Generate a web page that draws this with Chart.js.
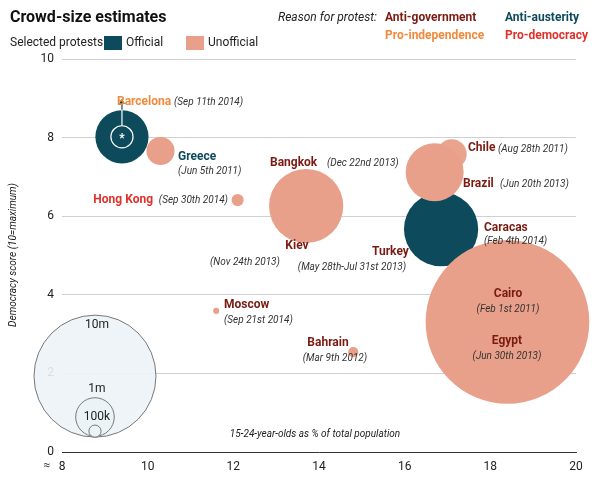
<!DOCTYPE html><html><head><meta charset="utf-8">
<script src="https://cdn.jsdelivr.net/npm/chart.js@4"></script>
<style>html,body{margin:0;padding:0;background:#fff}#w{width:600px;height:478px}</style></head>
<body><div id="w"><canvas id="c"></canvas></div>
<script>
const names=["Barcelona","Greece","Hong Kong","Bangkok","Kiev","Moscow","Bahrain","Chile","Brazil","Caracas","Turkey","Cairo","Egypt"];
const youthPct=[9.4,10.3,12.1,13.7,13.7,11.6,14.8,17.1,16.7,16.85,17.7,18.4,18.4];
const democracy=[8.02,7.66,6.41,6.26,5.8,3.59,2.54,7.58,7.12,5.67,5.06,4.02,3.31];
// crowd sizes in millions (null = none shown)
const unofficialM=[null,0.53,0.1,3.7,0.07,0.025,0.07,0.6,2.26,null,0.1,0.78,18];
const officialM=[1.9,0.27,null,0.27,0.01,null,0.01,null,null,3.7,null,null,null];
const scaleLabels=["10m","1m","100k"];const scaleM=[10,1,0.1];
const scaleX=[8.77,8.77,8.77];const scaleY=[1.93,0.89,0.53];
const xTicks=[8,10,12,14,16,18,20];const yTicks=[0,2,4,6,8,10];
const R10=61;const rad=m=>R10*Math.sqrt(m/10);
const TEAL='#0d4b5c',SALMON='#e9a08a',DRED='#7a1b12',ORANGE='#f08a3c',RED='#e0312a';
const uCol=names.map(n=>n==='Cairo'?'#e8734f':(n==='Chile'?'#eaa48e':SALMON));
function pts(vals){const o=[];vals.forEach((v,i)=>{if(v!=null)o.push({x:youthPct[i],y:democracy[i],r:rad(v),c:uCol[i]});});return o;}
const unoff=pts(unofficialM);
const extra=[{x:16.94,y:7.48,r:rad(0.39)}];
const off=pts(officialM);
const scaleData=scaleM.map((m,i)=>({x:scaleX[i],y:scaleY[i],r:rad(m)}));
Chart.registry.getController('bubble').prototype.getMaxOverflow=function(){return 0;};
const txt=(ctx,s,x,y,font,col,al)=>{ctx.font=font;ctx.fillStyle=col;ctx.textAlign=al||'left';ctx.fillText(s,x,y);};
const deco={id:'deco',afterDatasetsDraw(ch){const c=ch.ctx;c.save();c.textBaseline='middle';
const B='bold 12px Roboto',I='italic 10px Roboto';
const xs=ch.scales.x,ys=ch.scales.y;const bx=xs.getPixelForValue(youthPct[0]),by=ys.getPixelForValue(democracy[0]);
c.strokeStyle='#fff';c.lineWidth=1.2;c.beginPath();c.arc(bx,by,rad(0.33),0,7);c.stroke();
txt(c,'*',bx,by+2,'bold 12px Roboto','#fff','center');
c.strokeStyle='#fff';c.beginPath();c.moveTo(bx,by-11);c.lineTo(bx,by-36);c.stroke();
c.strokeStyle=TEAL;c.beginPath();c.moveTo(bx,by-27);c.lineTo(bx,by-36);c.stroke();
c.fillStyle=TEAL;c.beginPath();c.moveTo(bx-3,by-33);c.lineTo(bx,by-38);c.lineTo(bx+3,by-33);c.fill();
txt(c,'Barcelona',117,102,B,ORANGE);txt(c,'(Sep 11th 2014)',174,102,I,'#333');
txt(c,'Greece',178,157,B,TEAL);txt(c,'(Jun 5th 2011)',178,171,I,'#333');
txt(c,'(Sep 30th 2014)',228,200,I,'#333','right');txt(c,'Hong Kong',153,200,B,RED,'right');
txt(c,'Bangkok',270,163,B,DRED);txt(c,'(Dec 22nd 2013)',327,163,I,'#333');
txt(c,'Kiev',297,246,B,DRED,'center');txt(c,'(Nov 24th 2013)',245,262,I,'#333','center');
txt(c,'Turkey',372,252,B,DRED);txt(c,'(May 28th-Jul 31st 2013)',352,267,I,'#333','center');
txt(c,'Moscow',224,305,B,DRED);txt(c,'(Sep 21st 2014)',224,320,I,'#333');
txt(c,'Bahrain',328,343,B,DRED,'center');txt(c,'(Mar 9th 2012)',335,358,I,'#333','center');
txt(c,'Chile',468,148,B,DRED);txt(c,'(Aug 28th 2011)',498,149,I,'#333');
txt(c,'Brazil',463,184,B,DRED);txt(c,'(Jun 20th 2013)',500,184,I,'#333');
txt(c,'Caracas',484,228,B,DRED);txt(c,'(Feb 4th 2014)',484,241,I,'#333');
txt(c,'Cairo',508,294,B,DRED,'center');txt(c,'(Feb 1st 2011)',508,309,I,'#333','center');
txt(c,'Egypt',507,341,B,DRED,'center');txt(c,'(Jun 30th 2013)',507,356,I,'#333','center');
const sy=[325,389,417];scaleLabels.forEach((s,i)=>txt(c,s,97,sy[i],'12px Roboto','#222','center'));
txt(c,'15-24-year-olds as % of total population',315,434,'italic 10px Roboto','#222','center');
txt(c,'Crowd-size estimates',10,18,'bold 16px Roboto','#111');
txt(c,'Selected protests',10,43,'12px Roboto','#222');
c.fillStyle=TEAL;c.fillRect(104,36,18,14);txt(c,'Official',126,43,'12px Roboto','#222');
c.fillStyle=SALMON;c.fillRect(186,36,18,14);txt(c,'Unofficial',208,43,'12px Roboto','#222');
txt(c,'Reason for protest:',278,18,'italic 12px Roboto','#222');
txt(c,'Anti-government',385,18,B,DRED);txt(c,'Anti-austerity',505,18,B,TEAL);
txt(c,'Pro-independence',385,36,B,ORANGE);txt(c,'Pro-democracy',505,36,B,RED);
c.save();c.translate(13,255);c.rotate(-Math.PI/2);txt(c,'Democracy score (10=maximum)',0,0,'italic 10px Roboto','#222','center');c.restore();
txt(c,'≈',47,466,'12px Roboto','#444','center');
c.restore();}};
new Chart(document.getElementById('c'),{type:'bubble',
data:{datasets:[
{data:scaleData,backgroundColor:'rgba(236,243,246,0.9)',borderColor:'#777',borderWidth:1,clip:false},
{data:unoff,backgroundColor:ctx=>ctx.raw.c,borderWidth:0,clip:false},
{data:extra,backgroundColor:'#ee7c55',borderWidth:0,clip:false},
{data:off,backgroundColor:TEAL,borderWidth:0,clip:false}]},
plugins:[deco],
options:{responsive:true,maintainAspectRatio:false,animation:false,
layout:{padding:{top:59,right:24,left:0,bottom:0}},
plugins:{legend:{display:false},tooltip:{enabled:false}},
scales:{
x:{min:8,max:20,afterFit:s=>{s.height=26},afterBuildTicks:s=>{s.ticks=xTicks.map(v=>({value:v}))},
 grid:{display:false,drawTicks:false},border:{color:'#333'},ticks:{padding:8,color:'#222',font:{family:'Roboto',size:12}}},
y:{min:0,max:10,afterFit:s=>{s.width=62},afterBuildTicks:s=>{s.ticks=yTicks.map(v=>({value:v}))},
 grid:{color:'#d0d0d0',drawTicks:false},border:{display:false},ticks:{padding:8,color:'#222',font:{family:'Roboto',size:12}}}}}});
</script></body></html>
